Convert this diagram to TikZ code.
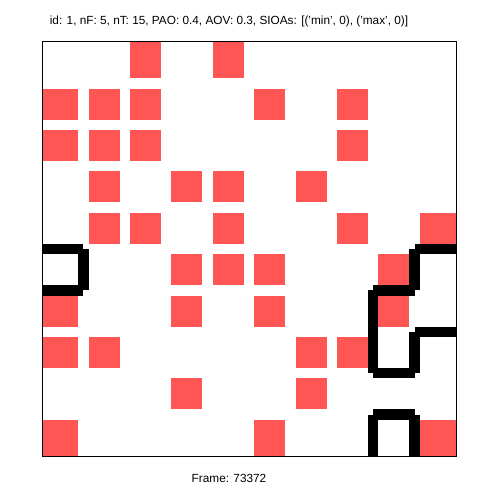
\documentclass[tikz,border=0pt]{standalone}
\usepackage{fontspec}
\setmainfont{Liberation Sans}
\definecolor{cellred}{RGB}{255,85,85}
\begin{document}
\begin{tikzpicture}[x=1pt,y=-1pt,
  cell/.style={fill=cellred},
  wall/.style={line width=10.5pt, line cap=butt},
  framebox/.style={line width=1pt},
  lbl/.style={font=\fontsize{11.8}{14}\selectfont, inner sep=0pt}]
\useasboundingbox (0,0) rectangle (500,500);
\fill[white] (0,0) rectangle (500,500);
\begin{scope}[shift={(42,42)}, x=41.4pt, y=-41.4pt]
  \foreach \r/\c in {0/2,0/4,
    1/0,1/1,1/2,1/5,1/7,
    2/0,2/1,2/2,2/7,
    3/1,3/3,3/4,3/6,
    4/1,4/2,4/4,4/7,4/9,
    5/3,5/4,5/5,5/8,
    6/0,6/3,6/5,6/8,
    7/0,7/1,7/6,7/7,
    8/3,8/6,
    9/0,9/5,9/9} {
    \pgfmathsetmacro\xa{\c==0 ? 0 : \c+0.126}
    \pgfmathsetmacro\xb{\c==9 ? 10 : \c+0.874}
    \pgfmathsetmacro\ya{\r==0 ? 0 : \r+0.126}
    \pgfmathsetmacro\yb{\r==9 ? 10 : \r+0.874}
    \fill[cell] (\xa,\ya) rectangle (\xb,\yb);
  }
  \draw[framebox] (0,0) rectangle (10,10);
  % walls
  \draw[wall] (0,5) -- (1,5);
  \draw[wall] (1,5) -- (1,6);
  \draw[wall] (0,6) -- (1,6);
  \draw[wall] (9,5) -- (10,5);
  \draw[wall] (9,5) -- (9,6);
  \draw[wall] (8,6) -- (9,6);
  \draw[wall] (8,6) -- (8,7);
  \draw[wall] (9,7) -- (10,7);
  \draw[wall] (9,7) -- (9,8);
  \draw[wall] (8,7) -- (8,8);
  \draw[wall] (8,8) -- (9,8);
  \draw[wall] (8,9) -- (9,9);
  \draw[wall] (8,9) -- (8,10);
  \draw[wall] (9,9) -- (9,10);
\end{scope}
\node[lbl] (title) at (229,21) {id: 1, nF: 5, nT: 15, PAO: 0.4, AOV: 0.3, SIOAs: [('min', 0), ('max', 0)]};
\node[lbl] (frame) at (229,478) {Frame: 73372};
\end{tikzpicture}
\end{document}
